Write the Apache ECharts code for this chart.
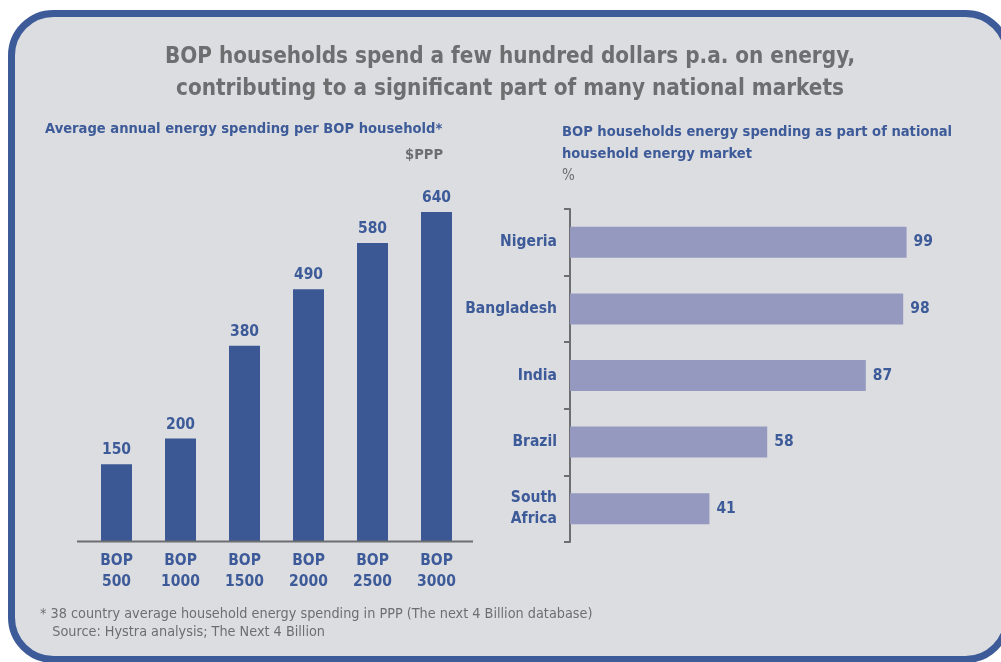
<!DOCTYPE html>
<html><head><meta charset="utf-8">
<script src="https://cdn.jsdelivr.net/npm/echarts@6/dist/echarts.min.js"></script>
<style>html,body{margin:0;padding:0;background:#fff}#c{width:1001px;height:662px}</style>
</head><body><div id="c"></div>
<script>
const leftCategories = ['BOP\n500','BOP\n1000','BOP\n1500','BOP\n2000','BOP\n2500','BOP\n3000'];
const leftValues = [150, 200, 380, 490, 580, 640];
const rightCategories = ['Nigeria','Bangladesh','India','Brazil','South\nAfrica'];
const rightValues = [99, 98, 87, 58, 41];

const FONT = '"Liberation Sans Narrow","DejaVu Sans Condensed","Liberation Sans",sans-serif';
const BLUE = '#3d5a99';
const GRAY = '#6d6e70';

const chart = echarts.init(document.getElementById('c'));
chart.setOption({
  backgroundColor: '#ffffff',
  animation: false,
  graphic: [
    {type:'rect', z:-10, silent:true, shape:{x:11.5,y:13.5,width:996,height:646,r:42},
     style:{fill:'#dcdde0', stroke:'#3d5a99', lineWidth:7}},
    {type:'text', x:510, y:41, style:{text:'BOP households spend a few hundred dollars p.a. on energy,\ncontributing to a significant part of many national markets',
      font:'bold 22.3px '+FONT, fill:GRAY, align:'center', verticalAlign:'top', lineHeight:32}},
    {type:'text', left:45, top:122, style:{text:'Average annual energy spending per BOP household*', font:'bold 14.6px '+FONT, fill:BLUE}},
    {type:'text', right:558, top:148, style:{text:'$PPP', font:'bold 14.6px '+FONT, fill:GRAY, textAlign:'right'}},
    {type:'text', left:562, top:121, style:{text:'BOP households energy spending as part of national\nhousehold energy market', font:'bold 14.6px '+FONT, fill:BLUE, lineHeight:22}},
    {type:'text', left:562, top:169, style:{text:'%', font:'15px '+FONT, fill:GRAY}},
    {type:'text', left:40, top:605, style:{text:'* 38 country average household energy spending in PPP (The next 4 Billion database)\n   Source: Hystra analysis; The Next 4 Billion', font:'14.3px '+FONT, fill:GRAY, lineHeight:18}},
    {type:'line', shape:{x1:77,y1:541.5,x2:473,y2:541.5}, style:{stroke:GRAY, lineWidth:2}, z:5}
  ],
  grid: [
    {left:84.5, top:212, width:384, height:329.5},
    {left:570, top:209, width:340, height:333}
  ],
  xAxis: [
    {gridIndex:0, type:'category', data:leftCategories, axisLine:{show:false}, axisTick:{show:false},
     axisLabel:{color:BLUE, fontFamily:FONT, fontWeight:'bold', fontSize:15.5, lineHeight:21, margin:9}},
    {gridIndex:1, type:'value', min:0, max:100, show:false}
  ],
  yAxis: [
    {gridIndex:0, type:'value', min:0, max:640, show:false},
    {gridIndex:1, type:'category', data:rightCategories, inverse:true,
     axisLine:{show:true, lineStyle:{color:GRAY, width:2}},
     axisTick:{show:true, alignWithLabel:false, length:6, lineStyle:{color:GRAY, width:2}},
     splitLine:{show:false},
     axisLabel:{color:BLUE, fontFamily:FONT, fontWeight:'bold', fontSize:15.5, lineHeight:21, margin:13, align:'right'}}
  ],
  series: [
    {type:'bar', xAxisIndex:0, yAxisIndex:0, data:leftValues, barWidth:31, itemStyle:{color:'#3b5794'},
     label:{show:true, position:'top', distance:6, color:BLUE, fontFamily:FONT, fontWeight:'bold', fontSize:15.5}},
    {type:'bar', xAxisIndex:1, yAxisIndex:1, data:rightValues, barWidth:31, itemStyle:{color:'#9599bf'},
     label:{show:true, position:'right', distance:7, color:BLUE, fontFamily:FONT, fontWeight:'bold', fontSize:15.5}}
  ]
});
</script></body></html>
